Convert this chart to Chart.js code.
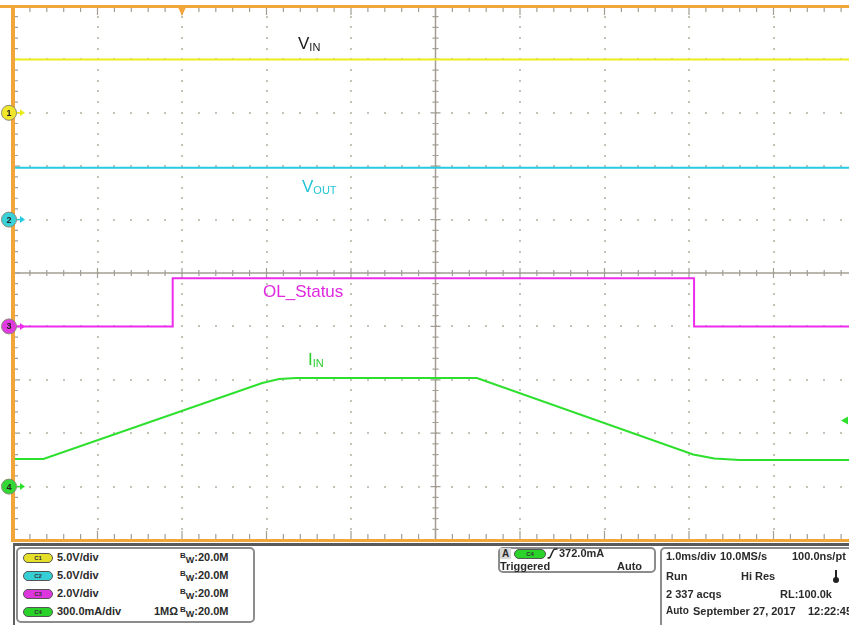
<!DOCTYPE html>
<html><head><meta charset="utf-8">
<script src="https://cdn.jsdelivr.net/npm/chart.js@4/dist/chart.umd.min.js"></script>
<style>
html,body{margin:0;padding:0;background:#fff;overflow:hidden;width:849px;height:625px;}
#wrap{position:relative;width:849px;height:625px;overflow:hidden;font-family:"Liberation Sans",Arial,sans-serif;}
canvas{position:absolute;left:0;top:0;}
.lab{position:absolute;font-size:17px;line-height:17px;white-space:nowrap;}
.lab .sub{font-size:11px;position:relative;top:2px;}
.box{position:absolute;border:2px solid #8c8c8c;border-radius:5px;box-sizing:border-box;background:#fff;}
.t{position:absolute;font-size:11px;font-weight:bold;line-height:12px;color:#2a2a2a;white-space:nowrap;}
.pill{position:absolute;width:30px;height:10px;border-radius:5px;border:1px solid #555;box-sizing:border-box;font-size:6px;line-height:8px;text-align:center;color:#333;font-weight:bold;}
.bw .b{font-size:8px;position:relative;top:-3px;}
.bw .w{font-size:9px;position:relative;top:2px;}
</style></head>
<body><div id="wrap">
<canvas id="c" width="870" height="625"></canvas>

<div class="lab" style="left:298px;top:35px;color:#1a1a1a">V<span class="sub">IN</span></div>
<div class="lab" style="left:302px;top:178px;color:#22c4d6">V<span class="sub">OUT</span></div>
<div class="lab" style="left:263px;top:283px;color:#e028e0">OL_Status</div>
<div class="lab" style="left:308px;top:351px;color:#2ccc2c">I<span class="sub">IN</span></div>

<div style="position:absolute;left:13px;top:543px;width:2px;height:82px;background:#606060"></div>
<div class="box" style="left:16px;top:547px;width:239px;height:76px"></div>
<div class="pill" style="left:23px;top:553px;background:#e6df2a">C1</div>
<div class="pill" style="left:23px;top:571px;background:#36cfd6">C2</div>
<div class="pill" style="left:23px;top:589px;background:#de36de">C3</div>
<div class="pill" style="left:23px;top:607px;background:#2ad22a">C4</div>
<div class="t" style="left:57px;top:551px">5.0V/div</div>
<div class="t" style="left:57px;top:569px">5.0V/div</div>
<div class="t" style="left:57px;top:587px">2.0V/div</div>
<div class="t" style="left:57px;top:605px">300.0mA/div</div>
<div class="t" style="left:154px;top:605px">1MΩ</div>
<div class="t bw" style="left:180px;top:551px"><span class="b">B</span><span class="w">W</span>:20.0M</div>
<div class="t bw" style="left:180px;top:569px"><span class="b">B</span><span class="w">W</span>:20.0M</div>
<div class="t bw" style="left:180px;top:587px"><span class="b">B</span><span class="w">W</span>:20.0M</div>
<div class="t bw" style="left:180px;top:605px"><span class="b">B</span><span class="w">W</span>:20.0M</div>

<div class="box" style="left:498px;top:547px;width:158px;height:26px"></div>
<div class="t" style="left:500px;top:548px;width:11px;height:11px;background:#d8d8d8;text-align:center;font-size:10px">A</div>
<div class="pill" style="left:514px;top:549px;width:32px;background:#2ad22a">C4</div>
<svg style="position:absolute;left:547px;top:548px" width="11" height="11"><path d="M0.5,10 C3,10 3,10 5,5 C7,0.5 7,1 10.5,1" stroke="#222" stroke-width="1.5" fill="none"/></svg>
<div class="t" style="left:559px;top:547px">372.0mA</div>
<div class="t" style="left:500px;top:560px">Triggered</div>
<div class="t" style="left:617px;top:560px">Auto</div>

<div class="box" style="left:660px;top:547px;width:200px;height:82px"></div>
<div class="t" style="left:666px;top:550px">1.0ms/div</div>
<div class="t" style="left:720px;top:550px">10.0MS/s</div>
<div class="t" style="left:792px;top:550px">100.0ns/pt</div>
<div class="t" style="left:666px;top:570px">Run</div>
<div class="t" style="left:741px;top:570px">Hi Res</div>
<div style="position:absolute;left:835px;top:570px;width:2px;height:9px;background:#222"></div>
<div style="position:absolute;left:833px;top:577px;width:6px;height:6px;border-radius:3px;background:#222"></div>
<div class="t" style="left:666px;top:588px">2 337 acqs</div>
<div class="t" style="left:780px;top:588px">RL:100.0k</div>
<div class="t" style="left:666px;top:605px;font-size:10px">Auto</div>
<div class="t" style="left:693px;top:605px">September 27, 2017</div>
<div class="t" style="left:808px;top:605px">12:22:45</div>
</div>
<script>
// ---- data (time in ms from left edge of the record) ----
const vinTime = [0, 10];
const vinVolts = [5.0, 5.0];
const voutTime = [0, 10];
const voutVolts = [4.85, 4.85];
const olTime = [0, 1.89, 1.89, 8.06, 8.06, 10];
const olVolts = [0, 0, 1.8, 1.8, 0, 0];
const iinTime = [0, 0.36, 2.95, 3.15, 3.35, 5.49, 8.05, 8.3, 8.6, 10];
const iinMilliamps = [155, 155, 582, 604, 610, 610, 180, 158, 150, 150];
const triggerTimeMs = 2.0;
const triggerLevelMilliamps = 372.0;

// ---- scope channel settings ----
const channelScale = [5, 5, 2, 300];       // units per division
const channelOffset = [8, 6, 4, 1];        // ground marker, in divisions from bottom
const channelColor = ['#ecec1c', '#26cbe0', '#ee2cee', '#2ee02e'];
const markerFill = ['#f2e62a', '#3ad2da', '#e03ae0', '#34d834'];

function toDiv(ch, times, vals){
  return times.map((t,i)=>({x:t, y: channelOffset[ch] + vals[i]/channelScale[ch]}));
}

const scopePlugin = {
  id:'scope',
  beforeDatasetsDraw(chart){
    const {ctx, chartArea:a, scales:{x,y}} = chart;
    ctx.save();
    // dotted graticule
    ctx.fillStyle = '#c6c2b6';
    for(let g=1; g<10; g++){
      if(g===5) continue;
      const py = y.getPixelForValue(g);
      for(let k=1;k<50;k++){ const px=x.getPixelForValue(k*0.2); ctx.fillRect(Math.round(px)-1, Math.round(py)-1, 2, 2); }
      const px = x.getPixelForValue(g);
      for(let k=1;k<50;k++){ const qy=y.getPixelForValue(k*0.2); ctx.fillRect(Math.round(px)-1, Math.round(qy)-1, 2, 2); }
    }
    // center cross with ticks
    ctx.strokeStyle = '#a29e94'; ctx.lineWidth = 1.5;
    const cx = x.getPixelForValue(5), cy = y.getPixelForValue(5);
    ctx.beginPath(); ctx.moveTo(a.left, cy); ctx.lineTo(a.right, cy); ctx.moveTo(cx, a.top); ctx.lineTo(cx, a.bottom); ctx.stroke();
    ctx.lineWidth = 1.2;
    ctx.beginPath();
    for(let k=1;k<50;k++){
      const major = k%5===0; const len = major?5:3;
      const px = x.getPixelForValue(k*0.2);
      ctx.moveTo(px, cy-len); ctx.lineTo(px, cy+len);
      const py = y.getPixelForValue(k*0.2);
      ctx.moveTo(cx-len, py); ctx.lineTo(cx+len, py);
      // border ticks
      ctx.moveTo(px, a.top); ctx.lineTo(px, a.top+(major?9:6));
      ctx.moveTo(px, a.bottom); ctx.lineTo(px, a.bottom-(major?9:6));
      ctx.moveTo(a.left, py); ctx.lineTo(a.left+(major?7:5), py);
    }
    ctx.stroke();
    ctx.restore();
  },
  afterDatasetsDraw(chart){
    const {ctx, chartArea:a, scales:{x,y}} = chart;
    ctx.save();
    // orange frame
    ctx.fillStyle = '#f2a53a';
    ctx.fillRect(0, a.top-1, chart.width, 3);
    ctx.fillRect(a.left-2, a.top-1, 4, a.bottom-a.top+3);
    ctx.fillRect(a.left-2, a.bottom-1, chart.width, 3);
    ctx.fillStyle = '#5a5a5a';
    ctx.fillRect(a.left, a.bottom+3, chart.width, 3);
    // trigger position marker
    const tx = x.getPixelForValue(triggerTimeMs);
    ctx.fillStyle = '#f2a53a';
    ctx.beginPath(); ctx.moveTo(tx-4, a.top+1); ctx.lineTo(tx+4, a.top+1); ctx.lineTo(tx, a.top+10); ctx.closePath(); ctx.fill();
    // trigger level marker (channel 4)
    const ty = y.getPixelForValue(channelOffset[3] + triggerLevelMilliamps/channelScale[3]);
    ctx.fillStyle = channelColor[3];
    ctx.beginPath(); ctx.moveTo(841, ty); ctx.lineTo(848, ty-4); ctx.lineTo(848, ty+4); ctx.closePath(); ctx.fill();
    // channel ground markers
    for(let ch=0; ch<4; ch++){
      const py = y.getPixelForValue(channelOffset[ch]);
      ctx.strokeStyle = channelColor[ch]; ctx.fillStyle = channelColor[ch]; ctx.lineWidth = 1.5;
      ctx.beginPath(); ctx.moveTo(15, py); ctx.lineTo(21, py); ctx.stroke();
      ctx.beginPath(); ctx.moveTo(20, py-3.5); ctx.lineTo(25, py); ctx.lineTo(20, py+3.5); ctx.closePath(); ctx.fill();
      ctx.beginPath(); ctx.arc(9, py, 7.5, 0, Math.PI*2);
      ctx.fillStyle = markerFill[ch]; ctx.fill();
      ctx.strokeStyle = '#8a8a7a'; ctx.lineWidth = 1; ctx.stroke();
      ctx.fillStyle = '#222'; ctx.font = 'bold 9px "Liberation Sans", Arial'; ctx.textAlign='center'; ctx.textBaseline='middle';
      ctx.fillText(String(ch+1), 9, py+0.5);
    }
    ctx.restore();
  }
};

new Chart(document.getElementById('c'), {
  type:'line',
  data:{ datasets:[
    {label:'VIN', data:toDiv(0, vinTime, vinVolts), borderColor:channelColor[0]},
    {label:'VOUT', data:toDiv(1, voutTime, voutVolts), borderColor:channelColor[1]},
    {label:'OL_Status', data:toDiv(2, olTime, olVolts), borderColor:channelColor[2]},
    {label:'IIN', data:toDiv(3, iinTime, iinMilliamps), borderColor:channelColor[3]}
  ]},
  options:{
    responsive:false, animation:false, devicePixelRatio:1,
    layout:{padding:{left:13, top:6, right:12, bottom:85}},
    plugins:{legend:{display:false}, tooltip:{enabled:false}},
    scales:{
      x:{type:'linear', min:0, max:10, display:false},
      y:{type:'linear', min:0, max:10, display:false}
    },
    elements:{point:{radius:0}, line:{tension:0, borderWidth:2}}
  },
  plugins:[scopePlugin]
});
</script>
</body></html>
